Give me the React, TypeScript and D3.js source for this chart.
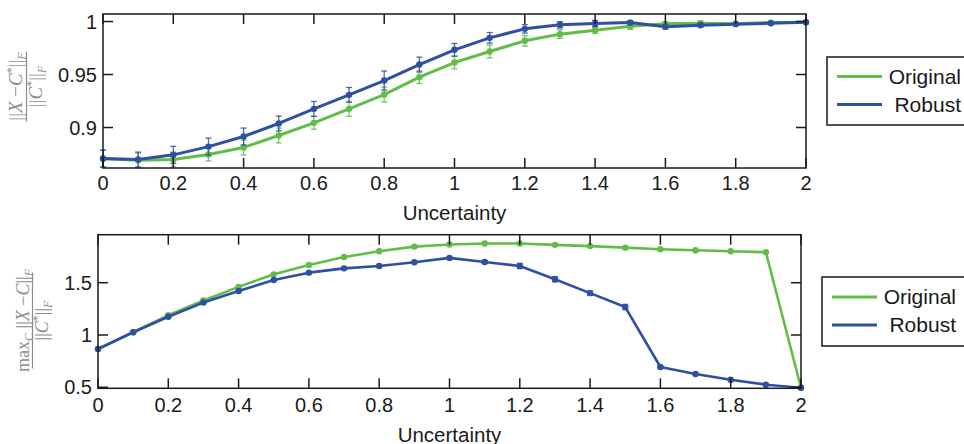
import React from "react";
import * as d3 from "d3";

const uncertainty = [0, 0.1, 0.2, 0.3, 0.4, 0.5, 0.6, 0.7, 0.8, 0.9, 1.0, 1.1, 1.2, 1.3, 1.4, 1.5, 1.6, 1.7, 1.8, 1.9, 2.0];
const xTicks = [0, 0.2, 0.4, 0.6, 0.8, 1, 1.2, 1.4, 1.6, 1.8, 2];
const xTickLabels = ["0", "0.2", "0.4", "0.6", "0.8", "1", "1.2", "1.4", "1.6", "1.8", "2"];

const topOriginal = [0.8705, 0.8690, 0.8698, 0.8745, 0.8812, 0.8925, 0.9044, 0.9176, 0.9311, 0.9475, 0.9613, 0.9717, 0.9818, 0.9881, 0.9918, 0.9956, 0.9978, 0.9984, 0.9980, 0.9990, 0.9994];
const topOriginalErr = [0.008, 0.007, 0.007, 0.006, 0.007, 0.007, 0.006, 0.007, 0.007, 0.006, 0.006, 0.006, 0.005, 0.004, 0.003, 0.003, 0.002, 0.002, 0.001, 0.001, 0.001];
const topRobust = [0.8708, 0.8698, 0.8742, 0.8820, 0.8915, 0.9038, 0.9176, 0.9308, 0.9443, 0.9594, 0.9733, 0.9846, 0.9931, 0.9969, 0.9981, 0.9990, 0.9950, 0.9965, 0.9975, 0.9984, 0.9994];
const topRobustErr = [0.008, 0.007, 0.008, 0.008, 0.008, 0.007, 0.007, 0.007, 0.009, 0.007, 0.006, 0.005, 0.004, 0.003, 0.003, 0.002, 0.002, 0.002, 0.001, 0.001, 0.001];
const topYTicks = [0.9, 0.95, 1];
const topYTickLabels = ["0.9", "0.95", "1"];

const bottomOriginal = [0.866, 1.026, 1.19, 1.33, 1.46, 1.58, 1.67, 1.745, 1.80, 1.845, 1.865, 1.875, 1.875, 1.862, 1.85, 1.835, 1.82, 1.81, 1.80, 1.792, 0.496];
const bottomOriginalErr = [0.004, 0.004, 0.005, 0.005, 0.005, 0.005, 0.005, 0.005, 0.005, 0.005, 0.005, 0.005, 0.005, 0.005, 0.005, 0.005, 0.005, 0.005, 0.005, 0.005, 0.004];
const bottomRobust = [0.866, 1.026, 1.175, 1.31, 1.42, 1.526, 1.596, 1.637, 1.66, 1.695, 1.737, 1.698, 1.66, 1.533, 1.40, 1.267, 0.694, 0.627, 0.572, 0.525, 0.496];
const bottomRobustErr = [0.004, 0.005, 0.006, 0.006, 0.006, 0.006, 0.006, 0.006, 0.007, 0.008, 0.01, 0.015, 0.025, 0.025, 0.02, 0.025, 0.008, 0.006, 0.005, 0.004, 0.004];
const bottomYTicks = [0.5, 1, 1.5];
const bottomYTickLabels = ["0.5", "1", "1.5"];

const seriesNames = ["Original", "Robust"];
const GREEN = "#62bd48";
const BLUE = "#2f4fa3";
const FONT = "'Liberation Sans', Arial, Helvetica, sans-serif";
const SERIF = "'Liberation Serif', 'Times New Roman', serif";
const LABEL_GREY = "#8c8c8c";

type PanelProps = {
  x0: number; x1: number; y0: number; y1: number;
  yDomain: [number, number];
  yTicks: number[]; yTickLabels: string[];
  series: { values: number[]; err: number[]; color: string; width: number }[];
  xLabelY: number; tickLabelDy: number;
};

function Panel(p: PanelProps) {
  const x = d3.scaleLinear().domain([0, 2]).range([p.x0, p.x1]);
  const y = d3.scaleLinear().domain(p.yDomain).range([p.y1, p.y0]);
  const tl = 10;
  const line = d3.line<number>().x((_, i) => x(uncertainty[i])).y((v) => y(v));
  return (
    <g>
      {p.series.map((s, si) => (
        <g key={si}>
          <path d={line(s.values) || ""} fill="none" stroke={s.color} strokeWidth={s.width} strokeLinejoin="round" />
          {s.values.map((v, i) => {
            const cx = x(uncertainty[i]);
            const ya = y(v - s.err[i]);
            const yb = y(v + s.err[i]);
            return (
              <g key={i}>
                <line x1={cx} x2={cx} y1={ya} y2={yb} stroke={s.color} strokeWidth={1.3} opacity={0.85} />
                <line x1={cx - 3} x2={cx + 3} y1={ya} y2={ya} stroke={s.color} strokeWidth={1.3} opacity={0.85} />
                <line x1={cx - 3} x2={cx + 3} y1={yb} y2={yb} stroke={s.color} strokeWidth={1.3} opacity={0.85} />
                <circle cx={cx} cy={y(v)} r={3.2} fill={s.color} />
              </g>
            );
          })}
        </g>
      ))}
      <rect x={p.x0} y={p.y0} width={p.x1 - p.x0} height={p.y1 - p.y0} fill="none" stroke="#1a1a1a" strokeWidth={1.5} />
      {xTicks.map((t, i) => (
        <g key={"xt" + i}>
          <line x1={x(t)} x2={x(t)} y1={p.y1} y2={p.y1 - tl} stroke="#1a1a1a" strokeWidth={1.5} />
          <line x1={x(t)} x2={x(t)} y1={p.y0} y2={p.y0 + tl} stroke="#1a1a1a" strokeWidth={1.5} />
          <text x={x(t)} y={p.y1 + p.tickLabelDy} textAnchor="middle" fontFamily={FONT} fontSize={20} fill="#1a1a1a">{xTickLabels[i]}</text>
        </g>
      ))}
      {p.yTicks.map((t, i) => (
        <g key={"yt" + i}>
          <line x1={p.x0} x2={p.x0 + tl} y1={y(t)} y2={y(t)} stroke="#1a1a1a" strokeWidth={1.5} />
          <line x1={p.x1} x2={p.x1 - tl} y1={y(t)} y2={y(t)} stroke="#1a1a1a" strokeWidth={1.5} />
          <text x={p.x0 - 6} y={y(t)} dy="0.36em" textAnchor="end" fontFamily={FONT} fontSize={20} fill="#1a1a1a">{p.yTickLabels[i]}</text>
        </g>
      ))}
      <text x={(p.x0 + p.x1) / 2} y={p.xLabelY} textAnchor="middle" fontFamily={FONT} fontSize={20.5} fill="#1a1a1a">Uncertainty</text>
    </g>
  );
}

function Legend({ x, y, w, h, lx0, lx1, textRight, rows }: { x: number; y: number; w: number; h: number; lx0: number; lx1: number; textRight: number; rows: number[] }) {
  const colors = [GREEN, BLUE];
  return (
    <g>
      <rect x={x} y={y} width={w} height={h} fill="white" stroke="#1a1a1a" strokeWidth={1.5} />
      {seriesNames.map((n, i) => (
        <g key={n}>
          <line x1={lx0} x2={lx1} y1={rows[i] - 7} y2={rows[i] - 7} stroke={colors[i]} strokeWidth={3} />
          <text x={textRight} y={rows[i]} textAnchor="end" fontFamily={FONT} fontSize={21} fill="#1a1a1a">{n}</text>
        </g>
      ))}
    </g>
  );
}

export default function App() {
  return (
    <svg width={964} height={444} style={{ position: "absolute", left: 0, top: 0, background: "white" }}>
      <Panel
        x0={103} x1={806} y0={14} y1={168}
        yDomain={[0.8618, 1.0071]}
        yTicks={topYTicks} yTickLabels={topYTickLabels}
        series={[
          { values: topOriginal, err: topOriginalErr, color: GREEN, width: 3 },
          { values: topRobust, err: topRobustErr, color: BLUE, width: 3 },
        ]}
        xLabelY={220} tickLabelDy={22}
      />
      <Panel
        x0={98} x1={801} y0={234.7} y1={388.3}
        yDomain={[0.4904, 1.9589]}
        yTicks={bottomYTicks} yTickLabels={bottomYTickLabels}
        series={[
          { values: bottomOriginal, err: bottomOriginalErr, color: GREEN, width: 2.6 },
          { values: bottomRobust, err: bottomRobustErr, color: BLUE, width: 2.6 },
        ]}
        xLabelY={441.5} tickLabelDy={23.5}
      />
      <Legend x={827} y={57} w={150} h={68} lx0={837} lx1={882} textRight={961} rows={[83.5, 111.5]} />
      <Legend x={822} y={277} w={150} h={69} lx0={832} lx1={877} textRight={956} rows={[304, 332]} />

      {/* Top y label: ||X - C*||_F / ||C*||_F */}
      <g transform="translate(26.5,86.5) rotate(-90)" fill={LABEL_GREY} fontFamily={SERIF}>
        <text x={0} y={-5} textAnchor="middle" fontSize={19}>
          <tspan>||</tspan><tspan fontStyle="italic">X</tspan><tspan> −</tspan><tspan fontStyle="italic">C</tspan><tspan fontSize={12} dy={-7}>*</tspan><tspan dy={7}>||</tspan><tspan fontStyle="italic" fontSize={12} dy={4}>F</tspan>
        </text>
        <line x1={-35} x2={35} y1={0} y2={0} stroke={LABEL_GREY} strokeWidth={1.2} />
        <text x={0} y={15} textAnchor="middle" fontSize={19}>
          <tspan>||</tspan><tspan fontStyle="italic">C</tspan><tspan fontSize={12} dy={-7}>*</tspan><tspan dy={7}>||</tspan><tspan fontStyle="italic" fontSize={12} dy={4}>F</tspan>
        </text>
      </g>

      {/* Bottom y label: max_C ||X - C||_F / ||C*||_F */}
      <g transform="translate(32.5,320.5) rotate(-90)" fill={LABEL_GREY} fontFamily={SERIF}>
        <text x={0} y={-4} textAnchor="middle" fontSize={18}>
          <tspan>max</tspan><tspan fontStyle="italic" fontSize={12} dy={4}>C</tspan><tspan dy={-4}> ||</tspan><tspan fontStyle="italic">X</tspan><tspan> −</tspan><tspan fontStyle="italic">C</tspan><tspan>||</tspan><tspan fontStyle="italic" fontSize={12} dy={4}>F</tspan>
        </text>
        <line x1={-48} x2={48} y1={0} y2={0} stroke={LABEL_GREY} strokeWidth={1.2} />
        <text x={0} y={15} textAnchor="middle" fontSize={18}>
          <tspan>||</tspan><tspan fontStyle="italic">C</tspan><tspan fontSize={12} dy={-7}>*</tspan><tspan dy={7}>||</tspan><tspan fontStyle="italic" fontSize={12} dy={4}>F</tspan>
        </text>
      </g>
    </svg>
  );
}
